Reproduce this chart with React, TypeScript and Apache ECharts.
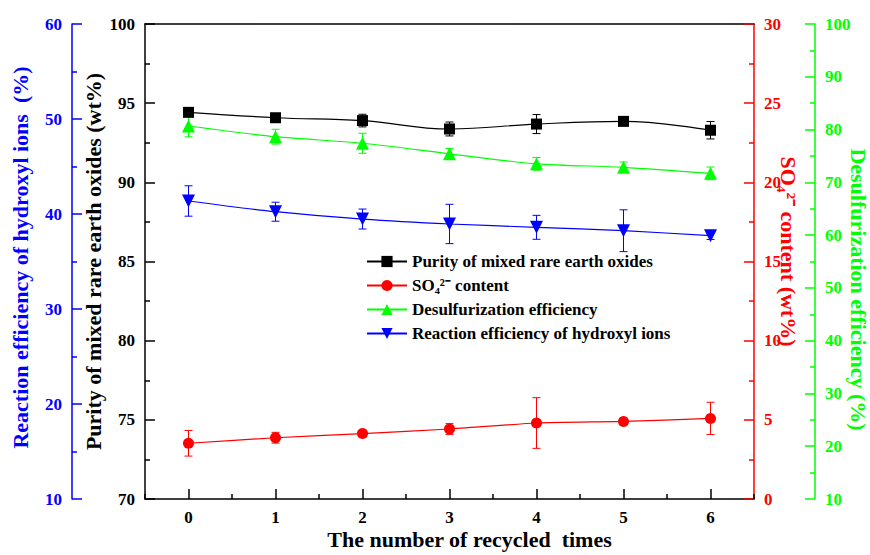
import React, { useEffect, useRef } from "react";
import * as echarts from "echarts";

const categories = ["0", "1", "2", "3", "4", "5", "6"];

const purityName = "Purity of mixed rare earth oxides";
const so4Name = "SO₄²⁻ content";
const desulfName = "Desulfurization efficiency";
const hydroxylName = "Reaction efficiency of hydroxyl ions";

const purity = [94.42, 94.08, 93.9, 93.37, 93.68, 93.85, 93.29];
const purityErr = [0.1, 0.1, 0.4, 0.44, 0.6, 0.15, 0.55];
const so4 = [3.52, 3.87, 4.13, 4.42, 4.8, 4.9, 5.09];
const so4Err = [0.81, 0.34, 0.1, 0.34, 1.6, 0.15, 1.02];
const desulf = [80.67, 78.65, 77.4, 75.4, 73.5, 72.85, 71.7];
const desulfErr = [2.05, 1.4, 1.9, 1.0, 1.2, 1.0, 1.2];
const hydroxyl = [41.37, 40.24, 39.47, 38.95, 38.6, 38.24, 37.72];
const hydroxylErr = [1.6, 1.0, 1.05, 2.07, 1.26, 2.2, 0.4];

const FONT = "Liberation Serif, Times New Roman, serif";
const BLACK = "#000000";
const RED = "#ff0000";
const GREEN = "#00ff00";
const BLUE = "#0000ff";

function errorSeries(values: number[], errs: number[], color: string, yAxisIndex: number) {
  return {
    type: "custom",
    xAxisIndex: 0,
    yAxisIndex,
    z: 1,
    silent: true,
    encode: { x: 0, y: 1 },
    data: values.map((v, i) => [i, v, errs[i]]),
    renderItem: (params: any, api: any) => {
      const x = api.value(0);
      const y = api.value(1);
      const e = api.value(2);
      const top = api.coord([x, y + e]);
      const bot = api.coord([x, y - e]);
      const w = 4;
      const style = { stroke: color, lineWidth: 1 };
      return {
        type: "group",
        children: [
          { type: "line", shape: { x1: top[0], y1: top[1], x2: bot[0], y2: bot[1] }, style },
          { type: "line", shape: { x1: top[0] - w, y1: top[1], x2: top[0] + w, y2: top[1] }, style },
          { type: "line", shape: { x1: bot[0] - w, y1: bot[1], x2: bot[0] + w, y2: bot[1] }, style },
        ],
      };
    },
  };
}

function yAxis(
  color: string,
  position: string,
  offset: number,
  min: number,
  max: number,
  interval: number,
  name: string,
  nameGap: number,
  nameRotate: number,
  namePadding: number[]
) {
  return {
    type: "value",
    position,
    offset,
    min,
    max,
    interval,
    name,
    nameLocation: "middle",
    nameGap,
    nameRotate,
    nameMoveOverlap: false,
    nameTextStyle: { color, fontFamily: FONT, fontWeight: "bold", fontSize: 22, padding: namePadding },
    axisLine: { show: true, lineStyle: { color, width: 1.5 } },
    axisTick: { show: true, inside: true, length: 10, lineStyle: { color, width: 1.5 } },
    minorTick: { show: true, splitNumber: 2, length: 5, lineStyle: { color, width: 1.5 } },
    axisLabel: { color, fontFamily: FONT, fontWeight: "bold", fontSize: 17, margin: 10 },
    splitLine: { show: false },
    minorSplitLine: { show: false },
  };
}

export default function App() {
  const ref = useRef<HTMLDivElement>(null);

  useEffect(() => {
    if (!ref.current) return;
    document.body.style.margin = "0";
    const chart = echarts.init(ref.current, null, { renderer: "svg", width: 870, height: 555 });
    const option: any = {
      animation: false,
      backgroundColor: "#ffffff",
      grid: { left: 145, right: 116, top: 24, bottom: 56, containLabel: false, outerBoundsMode: "none" },
      legend: {
        left: 361,
        top: 248,
        orient: "vertical",
        itemWidth: 40,
        itemHeight: 14,
        itemGap: 7,
        data: [purityName, so4Name, desulfName, hydroxylName],
        textStyle: { color: BLACK, fontFamily: FONT, fontWeight: "bold", fontSize: 17 },
      },
      xAxis: [
        {
          type: "category",
          data: categories,
          position: "bottom",
          boundaryGap: true,
          name: "The number of recycled  times",
          nameLocation: "middle",
          nameGap: 29,
          nameMoveOverlap: false,
          nameTextStyle: { color: BLACK, fontFamily: FONT, fontWeight: "bold", fontSize: 22, padding: [0, 0, 0, 40] },
          axisLine: { show: true, lineStyle: { color: BLACK, width: 1.5 } },
          axisTick: { show: true, inside: true, alignWithLabel: true, length: 10, lineStyle: { color: BLACK, width: 1.5 } },
          axisLabel: { color: BLACK, fontFamily: FONT, fontWeight: "bold", fontSize: 17, margin: 10 },
          splitLine: { show: false },
        },
        {
          type: "category",
          data: categories,
          position: "bottom",
          boundaryGap: true,
          axisLine: { show: false },
          axisTick: { show: true, inside: true, length: 5, lineStyle: { color: BLACK, width: 1.5 } },
          axisLabel: { show: false },
          splitLine: { show: false },
        },
        {
          type: "category",
          data: categories,
          position: "top",
          boundaryGap: true,
          axisLine: { show: true, lineStyle: { color: BLACK, width: 1.5 } },
          axisTick: { show: false },
          axisLabel: { show: false },
          splitLine: { show: false },
        },
      ],
      yAxis: [
        yAxis(BLACK, "left", 0, 70, 100, 5, "Purity of mixed rare earth oxides (wt%)", 41, 90, [0, 0, 0, 0]),
        yAxis(BLUE, "left", 73, 10, 60, 10, "Reaction efficiency of hydroxyl ions  (%)", 41, 90, [0, 0, 0, 8]),
        yAxis(RED, "right", 0, 0, 30, 5, "SO₄²⁻ content (wt%)", 23, -90, [0, 20, 0, 0]),
        yAxis(GREEN, "right", 61, 10, 100, 10, "Desulfurization efficiency (%)", 32, -90, [0, 0, 0, 56]),
      ],
      series: [
        errorSeries(purity, purityErr, BLACK, 0),
        errorSeries(so4, so4Err, RED, 2),
        errorSeries(desulf, desulfErr, GREEN, 3),
        errorSeries(hydroxyl, hydroxylErr, BLUE, 1),
        {
          name: purityName,
          type: "line",
          xAxisIndex: 0,
          yAxisIndex: 0,
          data: purity,
          smooth: 0.4,
          symbol: "rect",
          symbolSize: 11,
          z: 3,
          itemStyle: { color: BLACK },
          lineStyle: { color: BLACK, width: 1.2 },
        },
        {
          name: so4Name,
          type: "line",
          xAxisIndex: 0,
          yAxisIndex: 2,
          data: so4,
          smooth: 0.2,
          symbol: "circle",
          symbolSize: 11,
          z: 3,
          itemStyle: { color: RED },
          lineStyle: { color: RED, width: 1.2 },
        },
        {
          name: desulfName,
          type: "line",
          xAxisIndex: 0,
          yAxisIndex: 3,
          data: desulf,
          smooth: 0.3,
          symbol: "triangle",
          symbolSize: 13,
          z: 3,
          itemStyle: { color: GREEN },
          lineStyle: { color: GREEN, width: 1.2 },
        },
        {
          name: hydroxylName,
          type: "line",
          xAxisIndex: 0,
          yAxisIndex: 1,
          data: hydroxyl,
          smooth: 0.3,
          symbol: "triangle",
          symbolRotate: 180,
          symbolSize: 13,
          z: 3,
          itemStyle: { color: BLUE },
          lineStyle: { color: BLUE, width: 1.2 },
        },
      ],
    };
    chart.setOption(option);
    return () => chart.dispose();
  }, []);

  return (
    <div
      ref={ref}
      style={{ position: "fixed", left: 0, top: 0, width: 870, height: 555, background: "#fff" }}
    />
  );
}
